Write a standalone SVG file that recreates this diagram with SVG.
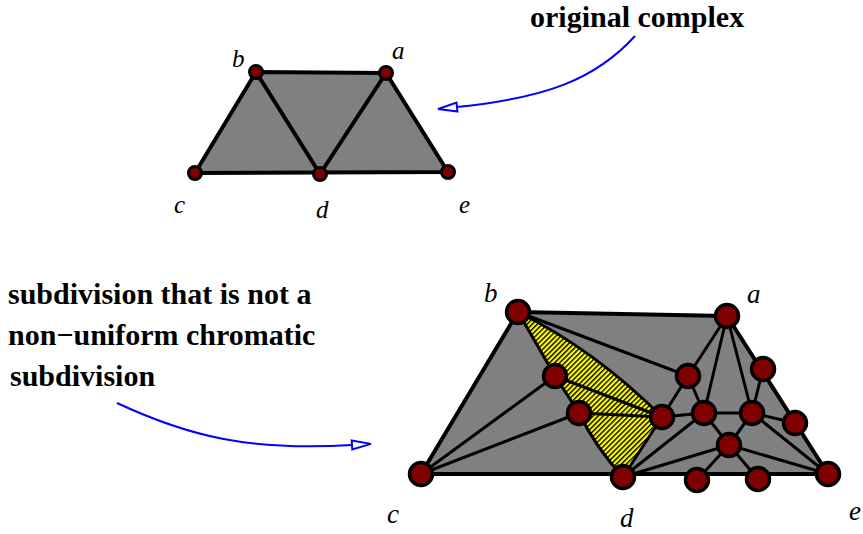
<svg xmlns="http://www.w3.org/2000/svg" width="863" height="534" viewBox="0 0 863 534">
<style>
.face{fill:#808080;stroke:none}
.edge{stroke:#000;stroke-width:3;fill:none;stroke-linecap:round}
.outer{stroke:#000;stroke-width:4;fill:none;stroke-linejoin:round}
.vs{fill:#800000;stroke:#000;stroke-width:3}
.vb{fill:#800000;stroke:#000;stroke-width:3.5}
.lbl{font-family:"Liberation Serif",serif;font-style:italic;fill:#000}
.note{font-family:"Liberation Serif",serif;font-weight:bold;font-size:30px;fill:#000}
.arrow{stroke:#0000ff;stroke-width:2;fill:none;marker-end:url(#head)}
</style>
<defs>
<marker id="head" markerUnits="userSpaceOnUse" markerWidth="24" markerHeight="14" viewBox="-2 -7 24 14" refX="0" refY="0" orient="auto">
<path d="M0,-4.5 L19,0 L0,4.5 Z" fill="#fff" stroke="#0000ff" stroke-width="2"/>
</marker>
<pattern id="hatch" width="3.6" height="3.6" patternUnits="userSpaceOnUse" patternTransform="rotate(45)">
<rect width="3.6" height="3.6" fill="#ffff00"/>
<rect width="1.4" height="3.6" fill="#000"/>
</pattern>
</defs>

<!-- top complex faces -->
<g id="top-faces">
<polygon class="face" points="256,72 386,73 448,172 195,173"/>
</g>

<!-- bottom complex faces -->
<g id="bottom-faces">
<polygon class="face" points="518,312 727,316 828,474 421,474"/>
<path d="M518,312 L555,376 L579,413 Q596,448 623,477 L662,417 Q595,350 518,312 Z" fill="url(#hatch)"/>
</g>

<g id="connectors">
<!-- top complex edges -->
<polygon class="outer" points="256,72 386,73 448,172 195,173"/>
<line class="edge" x1="256" y1="72" x2="320" y2="174" style="stroke-width:4"/>
<line class="edge" x1="386" y1="73" x2="320" y2="174" style="stroke-width:4"/>

<!-- bottom complex edges -->
<polygon class="outer" points="518,312 727,316 828,474 421,474"/>
<line class="edge" x1="518" y1="312" x2="555" y2="376"/>
<line class="edge" x1="555" y1="376" x2="579" y2="413"/>
<path class="edge" d="M579,413 Q596,448 623,477"/>
<path class="edge" d="M518,312 Q595,350 662,417"/>
<line class="edge" x1="555" y1="376" x2="662" y2="417"/>
<line class="edge" x1="579" y1="413" x2="662" y2="417"/>
<line class="edge" x1="662" y1="417" x2="623" y2="477"/>
<line class="edge" x1="518" y1="312" x2="688" y2="376"/>
<line class="edge" x1="421" y1="474" x2="555" y2="376"/>
<line class="edge" x1="421" y1="474" x2="579" y2="413"/>
<line class="edge" x1="688" y1="376" x2="727" y2="316"/>
<line class="edge" x1="688" y1="376" x2="662" y2="417"/>
<line class="edge" x1="688" y1="376" x2="704" y2="413"/>
<line class="edge" x1="662" y1="417" x2="704" y2="413"/>
<line class="edge" x1="727" y1="316" x2="704" y2="413"/>
<line class="edge" x1="727" y1="316" x2="752" y2="413"/>
<line class="edge" x1="763" y1="369" x2="752" y2="413"/>
<line class="edge" x1="704" y1="413" x2="752" y2="413"/>
<line class="edge" x1="752" y1="413" x2="795" y2="423"/>
<line class="edge" x1="704" y1="413" x2="729" y2="445"/>
<line class="edge" x1="752" y1="413" x2="729" y2="445"/>
<line class="edge" x1="729" y1="445" x2="697" y2="480"/>
<line class="edge" x1="729" y1="445" x2="758" y2="479"/>
<line class="edge" x1="729" y1="445" x2="828" y2="474"/>
<line class="edge" x1="729" y1="445" x2="623" y2="477"/>
<line class="edge" x1="704" y1="413" x2="623" y2="477"/>
<line class="edge" x1="752" y1="413" x2="828" y2="474"/>

<!-- annotation arrows -->
<path class="arrow" d="M635,36 C595,80 545,98 457,107"/>
<path class="arrow" d="M117,403 C190,437 250,451 352,445"/>
</g>

<!-- top complex vertices -->
<g id="top-b"><circle class="vs" cx="256" cy="72" r="6.5"/><text class="lbl" x="232" y="67" font-size="25">b</text></g>
<g id="top-a"><circle class="vs" cx="386" cy="73" r="6.5"/><text class="lbl" x="392" y="59" font-size="25">a</text></g>
<g id="top-c"><circle class="vs" cx="195" cy="173" r="6.5"/><text class="lbl" x="174" y="213" font-size="25">c</text></g>
<g id="top-d"><circle class="vs" cx="320" cy="174" r="6.5"/><text class="lbl" x="316" y="218" font-size="25">d</text></g>
<g id="top-e"><circle class="vs" cx="448" cy="172" r="6.5"/><text class="lbl" x="459" y="213" font-size="25">e</text></g>

<!-- bottom complex vertices -->
<g id="bot-b"><circle class="vb" cx="518" cy="312" r="11.5"/><text class="lbl" x="484" y="302" font-size="27">b</text></g>
<g id="bot-a"><circle class="vb" cx="727" cy="316" r="11.5"/><text class="lbl" x="747" y="303" font-size="27">a</text></g>
<g id="bot-c"><circle class="vb" cx="421" cy="474" r="11.5"/><text class="lbl" x="387" y="523" font-size="27">c</text></g>
<g id="bot-d"><circle class="vb" cx="623" cy="477" r="11.5"/><text class="lbl" x="620" y="527" font-size="27">d</text></g>
<g id="bot-e"><circle class="vb" cx="828" cy="474" r="11.5"/><text class="lbl" x="849" y="520" font-size="27">e</text></g>
<g id="v1"><circle class="vb" cx="555" cy="376" r="11.5"/></g>
<g id="v2"><circle class="vb" cx="579" cy="413" r="11.5"/></g>
<g id="v3"><circle class="vb" cx="662" cy="417" r="11.5"/></g>
<g id="v4"><circle class="vb" cx="688" cy="376" r="11.5"/></g>
<g id="v5"><circle class="vb" cx="704" cy="413" r="11.5"/></g>
<g id="v6"><circle class="vb" cx="752" cy="413" r="11.5"/></g>
<g id="v7"><circle class="vb" cx="763" cy="369" r="11.5"/></g>
<g id="v8"><circle class="vb" cx="795" cy="423" r="11.5"/></g>
<g id="v9"><circle class="vb" cx="729" cy="445" r="11.5"/></g>
<g id="v10"><circle class="vb" cx="697" cy="480" r="11.5"/></g>
<g id="v11"><circle class="vb" cx="758" cy="479" r="11.5"/></g>

<!-- annotations -->
<g id="note-original"><text class="note" x="530" y="27">original complex</text></g>
<g id="note-subdivision">
<text class="note" x="8" y="304">subdivision that is not a</text>
<text class="note" x="8" y="345">non−uniform chromatic</text>
<text class="note" x="10" y="386">subdivision</text>
</g>
</svg>
